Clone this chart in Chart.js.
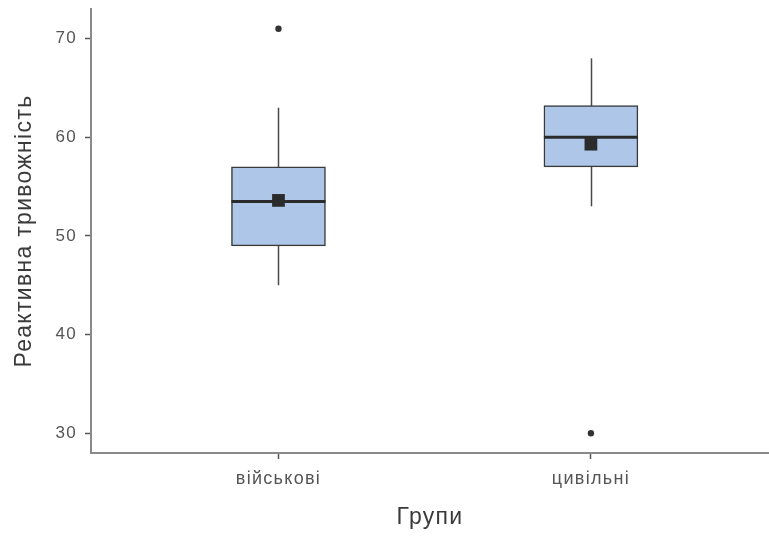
<!DOCTYPE html>
<html>
<head>
<meta charset="utf-8">
<script src="https://cdn.jsdelivr.net/npm/chart.js@4.4.1/dist/chart.umd.min.js"></script>
<style>
  html, body { margin: 0; padding: 0; background: #ffffff; }
  #wrap { width: 769px; height: 536px; }
</style>
</head>
<body>
<div id="wrap"><canvas id="c" width="769" height="536"></canvas></div>
<script>
// ---- data ----
const categories = ['військові', 'цивільні'];
const q1Values = [49, 57];
const q3Values = [57, 63.2];
const medianValues = [53.5, 60];
const whiskerLow = [45, 53];
const whiskerHigh = [63, 68];
const meanValues = [53.6, 59.3];
const outlierValues = [[71], [30]];
const yTickValues = [30, 40, 50, 60, 70];
const xTitle = 'Групи';
const yTitle = 'Реактивна тривожність';

const FONT = "'Liberation Sans', Arial, sans-serif";
const SPACING = '1.3px';

const boxData = categories.map((c, i) => ({ x: i + 1, y: [q1Values[i], q3Values[i]] }));
const meanData = categories.map((c, i) => ({ x: i + 1, y: meanValues[i] }));
const outlierData = [];
outlierValues.forEach((arr, i) => arr.forEach(v => outlierData.push({ x: i + 1, y: v })));

const spacingPlugin = {
  id: 'spacing',
  beforeLayout(chart) { chart.ctx.letterSpacing = SPACING; },
  beforeDraw(chart) { chart.ctx.letterSpacing = SPACING; }
};

const boxPlugin = {
  id: 'boxParts',
  beforeDatasetsDraw(chart) {
    const ctx = chart.ctx;
    const ys = chart.scales.y, xs = chart.scales.x;
    ctx.save();
    ctx.strokeStyle = '#4a4a4a';
    ctx.lineWidth = 1.5;
    categories.forEach((c, i) => {
      const x = Math.round(xs.getPixelForValue(i + 1)) + 0.5;
      ctx.beginPath();
      ctx.moveTo(x, ys.getPixelForValue(whiskerLow[i]));
      ctx.lineTo(x, ys.getPixelForValue(whiskerHigh[i]));
      ctx.stroke();
    });
    ctx.restore();
  },
  afterDatasetDraw(chart, args) {
    if (args.meta.type !== 'bar') return;
    const ctx = chart.ctx;
    const ys = chart.scales.y;
    ctx.save();
    ctx.strokeStyle = '#2b2b2b';
    ctx.lineWidth = 3;
    args.meta.data.forEach((el, i) => {
      const y = ys.getPixelForValue(medianValues[i]);
      ctx.beginPath();
      ctx.moveTo(el.x - el.width / 2, y);
      ctx.lineTo(el.x + el.width / 2, y);
      ctx.stroke();
    });
    ctx.restore();
  }
};

new Chart(document.getElementById('c'), {
  type: 'bar',
  data: {
    datasets: [
      {
        type: 'bar',
        data: boxData,
        backgroundColor: '#aec7e9',
        borderColor: '#3a3a3a',
        borderWidth: 1.5,
        borderSkipped: false,
        barThickness: 94,
        grouped: false,
        order: 3
      },
      {
        type: 'scatter',
        data: meanData,
        pointStyle: 'rect',
        pointRadius: 9,
        backgroundColor: '#2b2b2b',
        borderColor: '#2b2b2b',
        borderWidth: 0,
        order: 1
      },
      {
        type: 'scatter',
        data: outlierData,
        pointStyle: 'circle',
        pointRadius: 3.2,
        backgroundColor: '#333333',
        borderColor: '#333333',
        borderWidth: 0,
        order: 2
      }
    ]
  },
  options: {
    responsive: false,
    animation: false,
    layout: { autoPadding: false, padding: { top: 9, left: 0, right: 0, bottom: 0 } },
    plugins: { legend: { display: false }, tooltip: { enabled: false } },
    scales: {
      x: {
        type: 'linear',
        min: 0.4,
        max: 2.57,
        offset: false,
        afterBuildTicks(scale) { scale.ticks = categories.map((c, i) => ({ value: i + 1 })); },
        afterFit(scale) { scale.height = 83; scale.paddingLeft = 0; scale.paddingRight = 0; },
        ticks: {
          callback: (v) => categories[Math.round(v) - 1],
          color: '#555555',
          font: { family: FONT, size: 18 },
          padding: 9,
          maxRotation: 0
        },
        grid: { display: true, drawOnChartArea: false, drawTicks: true, tickLength: 6, tickWidth: 1.5, tickColor: '#555555', offset: false },
        border: { display: true, color: '#8a8a8a', width: 2 },
        title: { display: true, text: xTitle, color: '#3a3a3a', font: { family: FONT, size: 23 }, padding: 5 }
      },
      y: {
        type: 'linear',
        min: 28,
        max: 73,
        afterBuildTicks(scale) { scale.ticks = yTickValues.map(v => ({ value: v })); },
        afterFit(scale) { scale.width = 91; scale.paddingTop = 0; scale.paddingBottom = 0; },
        ticks: {
          color: '#555555',
          font: { family: FONT, size: 17 },
          padding: 8
        },
        grid: { display: true, drawOnChartArea: false, drawTicks: true, tickLength: 6, tickWidth: 1.5, tickColor: '#555555' },
        border: { display: true, color: '#8a8a8a', width: 2 },
        title: { display: true, text: yTitle, color: '#3a3a3a', font: { family: FONT, size: 23 }, padding: 11 }
      }
    }
  },
  plugins: [spacingPlugin, boxPlugin]
});
</script>
</body>
</html>
